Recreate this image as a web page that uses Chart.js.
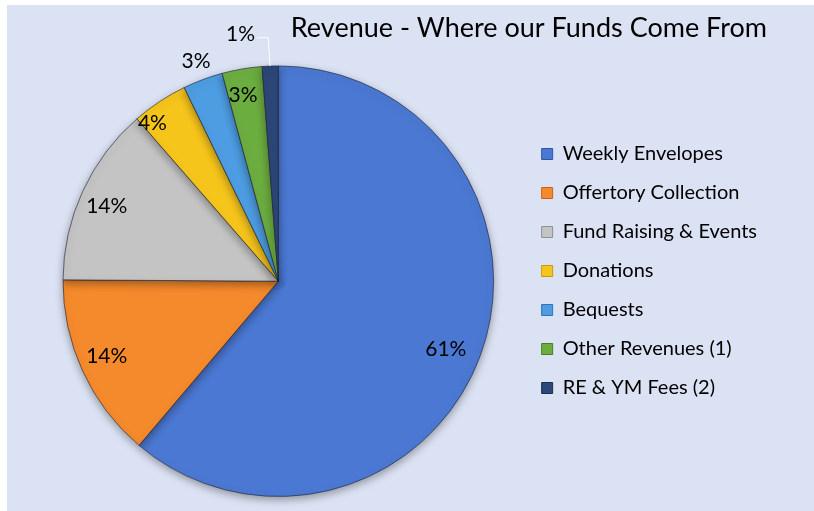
<!DOCTYPE html>
<html>
<head>
<meta charset="utf-8">
<script src="https://cdn.jsdelivr.net/npm/chart.js@4.4.1/dist/chart.umd.min.js"></script>
<style>
  html, body { margin: 0; padding: 0; background: #fff; }
  #panel { position: absolute; left: 7px; top: 5px; width: 807px; height: 506px; background: #dbe2f3; }
  canvas { display: block; }
</style>
</head>
<body>
<div id="panel"><canvas id="revenueChart" width="807" height="506"></canvas></div>
<script>
// --- DATA ---
const categories = [
    'Weekly Envelopes',
    'Offertory Collection',
    'Fund Raising & Events',
    'Donations',
    'Bequests',
    'Other Revenues (1)',
    'RE & YM Fees (2)'
];
const shares = [61.2, 13.9, 13.5, 4.2, 3.0, 3.0, 1.2];
const percentLabels = ['61%', '14%', '14%', '4%', '3%', '3%', '1%'];
const sliceColors = ['#4b78d2', '#f58a2c', '#c4c4c4', '#f5c51c', '#4e9de2', '#6cad40', '#2c4778'];
const rimColors = ['#2f55a6', '#c8621a', '#8e8e8e', '#c79a0a', '#2e74b8', '#477e26', '#1b2e52'];

// position des etiquettes (fraction du rayon, decalage angulaire en degres)
const labelRadius = [0.84, 0.87, 0.87, 0.94, 1.09, 0.88, 1.15];
const labelShift = [2, 1, -1, -5, 0, -1, 0];

// degrade radial pour l'effet "bevel"
function sliceFill(context) {
    const i = context.dataIndex;
    const chart = context.chart;
    const meta = chart.getDatasetMeta(0);
    const arc = meta.data[i];
    if (!arc || !arc.outerRadius) return sliceColors[i];
    const g = chart.ctx.createRadialGradient(arc.x, arc.y, 0, arc.x, arc.y, arc.outerRadius);
    g.addColorStop(0, sliceColors[i]);
    g.addColorStop(0.9, sliceColors[i]);
    g.addColorStop(1, rimColors[i]);
    return g;
}

const shadowPlugin = {
    id: 'pieShadow',
    beforeDatasetsDraw(chart) {
        const ctx = chart.ctx;
        ctx.save();
        ctx.shadowColor = 'rgba(0,0,0,0.35)';
        ctx.shadowBlur = 8;
        ctx.shadowOffsetY = 3;
    },
    afterDatasetsDraw(chart) {
        chart.ctx.restore();
    }
};

const labelPlugin = {
    id: 'sliceLabels',
    afterDatasetsDraw(chart) {
        const ctx = chart.ctx;
        const meta = chart.getDatasetMeta(0);
        ctx.save();
        ctx.font = '21px Lato';
        ctx.fillStyle = '#000';
        ctx.textBaseline = 'middle';
        meta.data.forEach((arc, i) => {
            const { x, y, startAngle, endAngle, outerRadius } = arc.getProps(['x', 'y', 'startAngle', 'endAngle', 'outerRadius'], true);
            const mid = (startAngle + endAngle) / 2;
            const ang = mid + labelShift[i] * Math.PI / 180;
            const r = outerRadius * labelRadius[i];
            const px = x + Math.cos(ang) * r;
            const py = y + Math.sin(ang) * r;
            if (i === categories.length - 1) {
                // petite part: etiquette a gauche avec trait de rappel
                const ox = x + Math.cos(mid) * outerRadius;
                const oy = y + Math.sin(mid) * outerRadius;
                ctx.textAlign = 'right';
                ctx.fillText(percentLabels[i], px - 14, py);
                ctx.strokeStyle = '#fff';
                ctx.lineWidth = 1;
                ctx.beginPath();
                ctx.moveTo(px - 12, py + 4);
                ctx.lineTo(ox - 2, py + 4);
                ctx.lineTo(ox, oy);
                ctx.stroke();
            } else {
                ctx.textAlign = 'center';
                ctx.fillText(percentLabels[i], px, py);
            }
        });
        ctx.restore();
    }
};

const ctx = document.getElementById('revenueChart').getContext('2d');
new Chart(ctx, {
    type: 'pie',
    data: {
        labels: categories,
        datasets: [{
            data: shares,
            backgroundColor: sliceFill,
            borderColor: 'rgba(30,30,50,0.6)',
            borderWidth: 1
        }]
    },
    options: {
        responsive: false,
        animation: false,
        layout: { padding: { left: 27, right: 47, top: 0, bottom: 14 } },
        plugins: {
            tooltip: { enabled: false },
            title: {
                display: true,
                text: 'Revenue - Where our Funds Come From',
                align: 'end',
                color: '#000',
                font: { family: 'Lato', size: 27, weight: 'normal' },
                padding: { top: 7, bottom: 21 }
            },
            legend: {
                position: 'right',
                title: {
                    display: true,
                    text: '',
                    color: '#000',
                    font: { size: 10 },
                    padding: { top: 14, bottom: 14 }
                },
                labels: {
                    color: '#000',
                    font: { family: 'Lato', size: 20 },
                    boxWidth: 11,
                    boxHeight: 11,
                    padding: 19,
                    generateLabels(chart) {
                        return categories.map((c, i) => ({
                            text: c,
                            fillStyle: sliceColors[i],
                            strokeStyle: rimColors[i],
                            fontColor: '#000',
                            lineWidth: 1,
                            hidden: false,
                            index: i
                        }));
                    }
                }
            }
        }
    },
    plugins: [shadowPlugin, labelPlugin]
});
</script>
</body>
</html>
